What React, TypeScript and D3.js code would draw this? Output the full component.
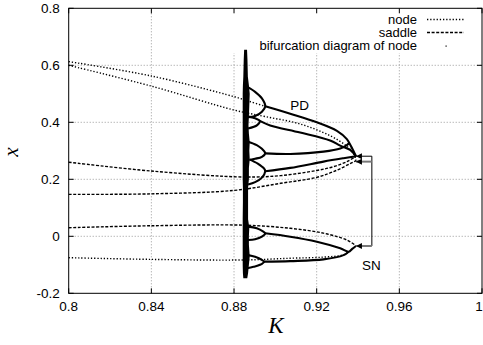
import * as d3 from 'd3';

type P = [number, number];

// axes
const xTicks = [0.8, 0.84, 0.88, 0.92, 0.96, 1];
const xTickLabels = ['0.8', '0.84', '0.88', '0.92', '0.96', '1'];
const yTicks = [-0.2, 0, 0.2, 0.4, 0.6, 0.8];
const yTickLabels = ['-0.2', '0', '0.2', '0.4', '0.6', '0.8'];

// node branches (K, x) - unstable parts dotted
const nodeA: P[] = [[0.8, 0.613], [0.84, 0.5625], [0.88, 0.49], [0.888, 0.472], [0.8951, 0.456]];
const nodeB: P[] = [[0.8, 0.6], [0.84, 0.527], [0.88, 0.443], [0.8951, 0.42], [0.912, 0.394], [0.9265, 0.353], [0.9346, 0.316], [0.938, 0.288], [0.939, 0.265]];
const nodeC: P[] = [[0.8, -0.075], [0.84, -0.081], [0.885, -0.083], [0.9072, -0.077], [0.9233, -0.073], [0.933, -0.065], [0.9355, -0.054]];

// saddle branches (dashed)
const saddleA: P[] = [[0.8, 0.26], [0.84, 0.229], [0.885, 0.208], [0.9026, 0.213], [0.9201, 0.231], [0.928, 0.244], [0.9346, 0.262], [0.939, 0.28]];
const saddleB: P[] = [[0.8, 0.147], [0.84, 0.149], [0.88, 0.161], [0.9026, 0.186], [0.9201, 0.207], [0.9298, 0.232], [0.9362, 0.255], [0.939, 0.265]];
const saddleC: P[] = [[0.8, 0.03], [0.84, 0.037], [0.885, 0.039], [0.9072, 0.028], [0.9233, 0.011], [0.9346, -0.013], [0.939, -0.033]];

// bifurcation diagram of node (solid)
const outerPD: P[] = [[0.8951, 0.456], [0.9072, 0.43], [0.9201, 0.4], [0.9298, 0.37], [0.9346, 0.341], [0.9372, 0.308], [0.939, 0.281]];
const innerA: P[] = [[0.8925, 0.405], [0.8975, 0.389], [0.912, 0.364], [0.9265, 0.336], [0.9314, 0.318], [0.9362, 0.303], [0.939, 0.281]];
const innerB: P[] = [[0.8951, 0.291], [0.9072, 0.289], [0.9233, 0.297], [0.9314, 0.308], [0.9346, 0.32], [0.9358, 0.328]];
const innerC: P[] = [[0.8951, 0.228], [0.9072, 0.24], [0.9233, 0.262], [0.933, 0.274], [0.939, 0.281]];
const lowerA: P[] = [[0.8951, 0.0105], [0.9072, -0.0014], [0.9201, -0.019], [0.9314, -0.042], [0.9355, -0.054], [0.9372, -0.044], [0.939, -0.034]];
const lowerB: P[] = [[0.8945, -0.089], [0.9072, -0.087], [0.9233, -0.081], [0.933, -0.066], [0.9355, -0.054]];

// period-doubling bubbles next to the chaotic band
const bubbles: P[][] = [
  [[0.8862, 0.525], [0.8902, 0.507], [0.8935, 0.484], [0.8951, 0.456], [0.8935, 0.437], [0.8902, 0.422], [0.8868, 0.418]],
  [[0.8868, 0.42], [0.8902, 0.414], [0.8925, 0.405], [0.8912, 0.39], [0.8868, 0.378]],
  [[0.8868, 0.332], [0.891, 0.32], [0.8935, 0.307], [0.8951, 0.291], [0.8935, 0.279], [0.8902, 0.272], [0.8875, 0.268]],
  [[0.8875, 0.27], [0.8915, 0.255], [0.8945, 0.238], [0.8951, 0.228], [0.8935, 0.206], [0.8902, 0.19], [0.8868, 0.182]],
  [[0.8868, 0.034], [0.891, 0.028], [0.8942, 0.016], [0.8951, 0.0105], [0.8935, -0.0014], [0.8902, -0.0105], [0.8868, -0.013]],
  [[0.8868, -0.066], [0.8902, -0.072], [0.8935, -0.083], [0.8945, -0.089], [0.8926, -0.1], [0.8894, -0.107], [0.8862, -0.112]],
];

// chaotic band: x value, left K, right K
const bandX = [0.655, 0.62, 0.56, 0.53, 0.5, 0.46, 0.42, 0.39, 0.36, 0.33, 0.3, 0.27, 0.24, 0.2, 0.17, 0.12, 0.06, 0.03, 0.0, -0.03, -0.07, -0.1, -0.13, -0.147];
const bandK0 = [0.8849, 0.8847, 0.8845, 0.8843, 0.8842, 0.8842, 0.8842, 0.8842, 0.8842, 0.8842, 0.8842, 0.8842, 0.8842, 0.8842, 0.8843, 0.8843, 0.8842, 0.8842, 0.8842, 0.8842, 0.8842, 0.8842, 0.8843, 0.8845];
const bandK1 = [0.8863, 0.8865, 0.8867, 0.8872, 0.8876, 0.8874, 0.8872, 0.887, 0.8872, 0.8876, 0.8874, 0.8876, 0.8872, 0.8872, 0.8868, 0.8868, 0.8868, 0.8874, 0.8872, 0.8872, 0.8876, 0.8872, 0.8868, 0.8864];

// SN annotation arrows
const snK = [0.9467, 0.939];
const snX = [0.281, 0.262, -0.034];

const W = 483, H = 345;
const xs = d3.scaleLinear().domain([0.8, 1]).range([68.7, 482]);
const ys = d3.scaleLinear().domain([-0.2, 0.8]).range([293.3, 8.3]);

const line = d3.line<P>().x(d => xs(d[0])).y(d => ys(d[1])).curve(d3.curveCatmullRom.alpha(0.5));
const band = d3.area<number>()
  .y(i => ys(bandX[i]))
  .x0(i => xs(bandK0[i]))
  .x1(i => xs(bandK1[i]));

const sans = '"Liberation Sans", Arial, Helvetica, sans-serif';
const serif = '"Liberation Serif", "Times New Roman", serif';

export default function App() {
  const left = xs(0.8), right = xs(1), top = ys(0.8), bottom = ys(-0.2);
  const keyBottom = 53;
  const dotted = { fill: 'none', stroke: '#000', strokeWidth: 1.4, strokeDasharray: '1.3,1.9' };
  const dashed = { fill: 'none', stroke: '#000', strokeWidth: 1.4, strokeDasharray: '3,1.6' };
  const solid = { fill: 'none', stroke: '#000', strokeWidth: 2.1 };

  return (
    <svg width={W} height={H} style={{ position: 'absolute', left: 0, top: 0, background: '#fff' }}
      fontFamily={sans}>
      <defs>
        <marker id="tri" viewBox="0 0 10 10" refX="10" refY="5" markerWidth="6" markerHeight="7"
          markerUnits="userSpaceOnUse" orient="auto">
          <path d="M0,0L10,5L0,10Z" fill="#000" />
        </marker>
      </defs>

      {/* grid */}
      {xTicks.slice(1, -1).map(t => (
        <line key={'gx' + t} x1={xs(t)} x2={xs(t)} y1={bottom} y2={xs(t) > 225 ? keyBottom : top}
          stroke="#999" strokeWidth={1} strokeDasharray="1,2" />
      ))}
      {yTicks.slice(1, -1).map(t => (
        <line key={'gy' + t} x1={left} x2={right} y1={ys(t)} y2={ys(t)}
          stroke="#999" strokeWidth={1} strokeDasharray="1,2" />
      ))}

      {/* border + ticks */}
      <rect x={left} y={top} width={right - left} height={bottom - top} fill="none" stroke="#000" strokeWidth={1} />
      {xTicks.map(t => (
        <g key={'tx' + t}>
          <line x1={xs(t)} x2={xs(t)} y1={bottom} y2={bottom - 5} stroke="#000" />
          <line x1={xs(t)} x2={xs(t)} y1={top} y2={top + 5} stroke="#000" />
        </g>
      ))}
      {yTicks.map(t => (
        <g key={'ty' + t}>
          <line x1={left} x2={left + 5} y1={ys(t)} y2={ys(t)} stroke="#000" />
          <line x1={right} x2={right - 5} y1={ys(t)} y2={ys(t)} stroke="#000" />
        </g>
      ))}
      {xTicks.map((t, i) => (
        <text key={'lx' + t} x={Math.min(xs(t), 479)} y={bottom + 18} fontSize={13.5} textAnchor="middle">{xTickLabels[i]}</text>
      ))}
      {yTicks.map((t, i) => (
        <text key={'ly' + t} x={left - 9} y={ys(t) + 4.8} fontSize={13.5} textAnchor="end">{yTickLabels[i]}</text>
      ))}

      {/* branches */}
      {[nodeA, nodeB, nodeC].map((d, i) => <path key={'n' + i} d={line(d) || ''} {...dotted} />)}
      {[saddleA, saddleB, saddleC].map((d, i) => <path key={'s' + i} d={line(d) || ''} {...dashed} />)}
      {[outerPD, innerA, innerB, innerC, lowerA, lowerB].map((d, i) => <path key={'b' + i} d={line(d) || ''} {...solid} />)}
      {bubbles.map((d, i) => <path key={'u' + i} d={line(d) || ''} {...solid} />)}
      <path d={band(d3.range(bandX.length)) || ''} fill="#000" />

      {/* SN annotation */}
      <line x1={xs(snK[0])} x2={xs(snK[0])} y1={ys(snX[0])} y2={ys(snX[2])} stroke="#000" strokeWidth={1} />
      {snX.map((v, i) => (
        <line key={'a' + i} x1={xs(snK[0])} x2={xs(snK[1])} y1={ys(v)} y2={ys(v)}
          stroke={i === 0 ? '#000' : '#777'} strokeWidth={i === 0 ? 1 : 2} markerEnd="url(#tri)" />
      ))}
      <text x={xs(0.9465)} y={ys(-0.118)} fontSize={13.5} textAnchor="middle">SN</text>
      <text x={xs(0.9072)} y={ys(0.443)} fontSize={13.5}>PD</text>

      {/* legend */}
      <text x={417} y={24} fontSize={13} textAnchor="end">node</text>
      <line x1={427} x2={464} y1={19.5} y2={19.5} {...dotted} />
      <text x={417} y={37} fontSize={13} textAnchor="end">saddle</text>
      <line x1={427} x2={464} y1={32.5} y2={32.5} {...dashed} />
      <text x={417} y={50} fontSize={13} textAnchor="end">bifurcation diagram of node</text>
      <rect x={445.5} y={45.5} width={1.2} height={1.2} fill="#000" />

      {/* axis labels */}
      <text x={276} y={333} fontSize={23} fontStyle="italic" fontFamily={serif} textAnchor="middle">K</text>
      <text transform="translate(18,152) rotate(-90)" fontSize={21} fontStyle="italic" fontFamily={serif} textAnchor="middle">x</text>
    </svg>
  );
}
